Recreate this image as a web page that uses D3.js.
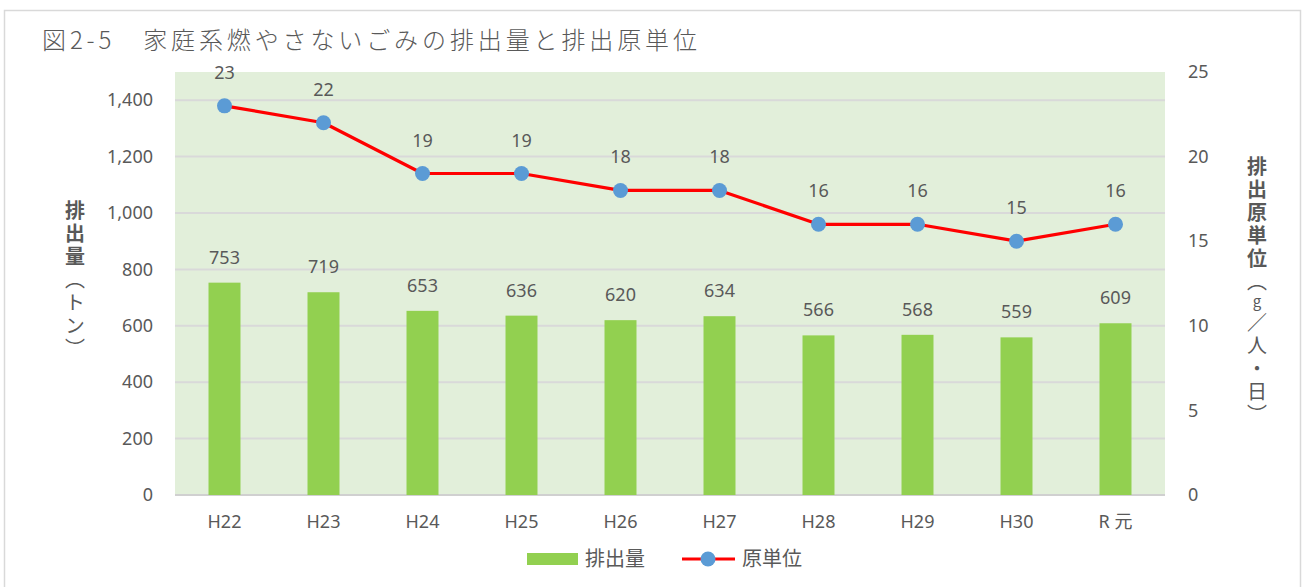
<!DOCTYPE html>
<html><head><meta charset="utf-8">
<script src="https://cdn.jsdelivr.net/npm/d3@7"></script>
<style>
body{margin:0;background:#fff;}
svg{display:block;}
text{font-family:"Noto Sans CJK JP","Noto Sans",sans-serif;fill:#595959;}
</style></head><body>
<svg id="c" width="1303" height="587"></svg>
<script>
const categories = ["H22","H23","H24","H25","H26","H27","H28","H29","H30","R 元"];
const amounts = [753,719,653,636,620,634,566,568,559,609];
const unitValues = [23,22,19,19,18,18,16,16,15,16];
const leftTicks = [0,200,400,600,800,1000,1200,1400];
const rightTicks = [0,5,10,15,20,25];
const titleText = "図2-5　家庭系燃やさないごみの排出量と排出原単位";
const leftTitle = [["排出量",700,20],["（トン）",400,20]];
const rightTitle = [["排出原単位",700,20],["（",400,20],["g",400,15],["／人・日）",400,20]];
const legendNames = ["排出量","原単位"];

const svg = d3.select("#c");
const m = {l:175, r:1165, t:72, b:495};

// outer frame
svg.append("rect").attr("x",4.5).attr("y",10.5).attr("width",1296).attr("height",600)
  .attr("fill","none").attr("stroke","#d9d9d9").attr("stroke-width",1.5);

svg.append("text").attr("x",42).attr("y",49).attr("font-size",24)
  .attr("textLength",655).attr("lengthAdjust","spacing")
  .style("font-family","'Noto Sans CJK JP'").style("font-weight",300)
  .text(titleText);

const x = d3.scaleBand().domain(categories).range([m.l,m.r]).paddingInner(0.677).paddingOuter(0.3385);
const xc = d3.scaleBand().domain(categories).range([m.l,m.r]);
const yL = d3.scaleLinear().domain([0,1500]).range([m.b,m.t]);
const yR = d3.scaleLinear().domain([0,25]).range([m.b,m.t]);

svg.append("rect").attr("x",m.l).attr("y",m.t).attr("width",m.r-m.l).attr("height",m.b-m.t).attr("fill","#e2efda");

// gridlines
svg.append("g").selectAll("line").data(leftTicks).join("line")
  .attr("x1",m.l).attr("x2",m.r).attr("y1",d=>yL(d)).attr("y2",d=>yL(d))
  .attr("stroke",d=>d===0?"#d0d0d0":"#d9d9d9").attr("stroke-width",2);

// left axis
const gl = svg.append("g").attr("transform",`translate(${m.l},0)`)
  .call(d3.axisLeft(yL).tickValues(leftTicks).tickFormat(d3.format(",")).tickSize(0).tickPadding(22));
gl.select(".domain").remove();
gl.selectAll("text").attr("font-size",18).style("font-family","'Noto Sans'").attr("fill","#595959");

const gr = svg.append("g").attr("transform",`translate(${m.r},0)`)
  .call(d3.axisRight(yR).tickValues(rightTicks).tickSize(0).tickPadding(23));
gr.select(".domain").remove();
gr.selectAll("text").attr("font-size",18).style("font-family","'Noto Sans'").attr("fill","#595959");

const gx = svg.append("g").attr("transform",`translate(0,${m.b})`)
  .call(d3.axisBottom(xc).tickSize(0).tickPadding(20));
gx.select(".domain").remove();
gx.selectAll("text").attr("font-size",18).style("font-family","'Noto Sans','Noto Sans CJK JP'").attr("fill","#595959");

// bars
svg.append("g").selectAll("rect").data(amounts).join("rect")
  .attr("x",(d,i)=>x(categories[i])).attr("width",x.bandwidth())
  .attr("y",d=>yL(d)).attr("height",d=>yL(0)-yL(d)).attr("fill","#92d050");
svg.append("g").selectAll("text").data(amounts).join("text")
  .attr("x",(d,i)=>xc(categories[i])+xc.bandwidth()/2).attr("y",d=>yL(d)-19)
  .attr("text-anchor","middle").attr("font-size",18).style("font-family","'Noto Sans'")
  .attr("fill","#404040").text(d=>d);

// line
const line = d3.line().x((d,i)=>xc(categories[i])+xc.bandwidth()/2).y(d=>yR(d));
svg.append("path").datum(unitValues).attr("d",line).attr("fill","none")
  .attr("stroke","#ff0000").attr("stroke-width",3.2).attr("stroke-linejoin","round");
svg.append("g").selectAll("circle").data(unitValues).join("circle")
  .attr("cx",(d,i)=>xc(categories[i])+xc.bandwidth()/2).attr("cy",d=>yR(d)).attr("r",7.5)
  .attr("fill","#5b9bd5");
svg.append("g").selectAll("text").data(unitValues).join("text")
  .attr("x",(d,i)=>xc(categories[i])+xc.bandwidth()/2).attr("y",d=>yR(d)-27)
  .attr("text-anchor","middle").attr("font-size",18).style("font-family","'Noto Sans'")
  .attr("fill","#404040").text(d=>d);

// axis titles (vertical)
function vtitle(xp, yp, parts){
  const t = svg.append("text").attr("x",xp).attr("y",yp)
    .style("writing-mode","vertical-rl").style("text-orientation","upright")
    .style("letter-spacing","3px").attr("font-size",20);
  parts.forEach(p=>t.append("tspan").style("font-weight",p[1]).attr("font-size",p[2]).text(p[0]));
}
vtitle(75, 200, leftTitle);
vtitle(1257, 156, rightTitle);

// legend
const lg = svg.append("g");
lg.append("rect").attr("x",527).attr("y",553).attr("width",51).attr("height",12).attr("fill","#92d050");
lg.append("text").attr("x",585).attr("y",566).attr("font-size",20).text(legendNames[0]);
lg.append("line").attr("x1",682).attr("x2",735).attr("y1",559).attr("y2",559).attr("stroke","#ff0000").attr("stroke-width",3.2);
lg.append("circle").attr("cx",708).attr("cy",559).attr("r",7.5).attr("fill","#5b9bd5");
lg.append("text").attr("x",742).attr("y",566).attr("font-size",20).text(legendNames[1]);
</script></body></html>
